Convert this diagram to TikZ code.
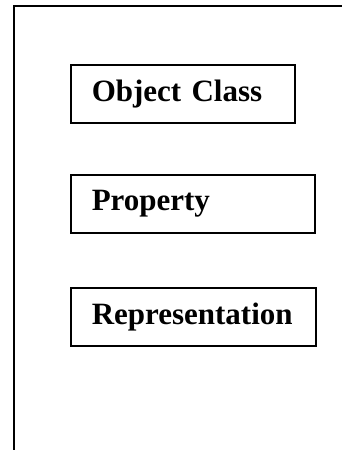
\documentclass[tikz,border=0pt]{standalone}
\usepackage{fontspec}
\setmainfont{Liberation Serif}
\usepackage{tikz}

\tikzset{
    kasten/.style = {draw = black, line width = 1.5pt, anchor = north west, minimum height = 58pt,
        inner xsep = 21pt, align = left, font = \fontsize{31}{36}\selectfont\bfseries}
}

\begin{document}
\begin{tikzpicture}[x = 1pt, y = -1pt]
        \useasboundingbox (0, 0) rectangle (342, 450);

        % Rahmen
        \draw[black, line width = 1.6pt] (14, 450) -- (14, 6) -- (342, 6);

        % Kästchen
        \node[kasten, text width = 182pt] (objclass) at (70, 64) {Object Class};
        \node[kasten, text width = 202pt] (property) at (70, 174) {Property};
        \node[kasten, text width = 203pt] (repres) at (70, 287) {Representation};

\end{tikzpicture}
\end{document}
